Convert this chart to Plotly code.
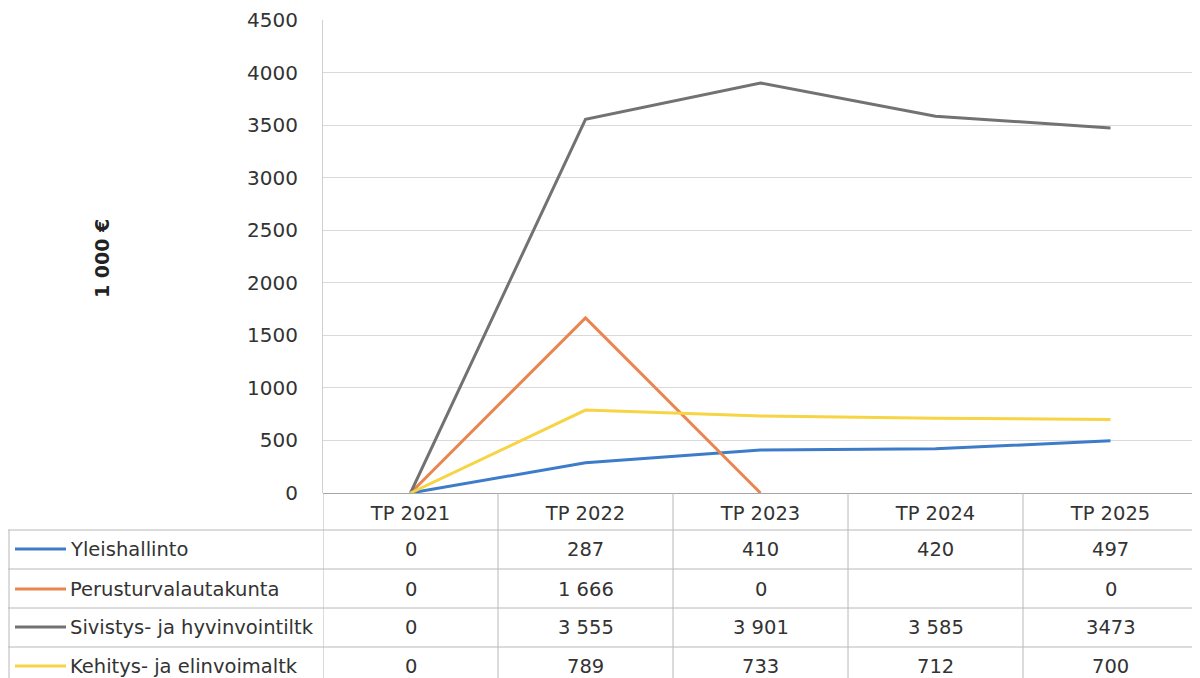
import plotly.graph_objects as go

categories = ["TP 2021", "TP 2022", "TP 2023", "TP 2024", "TP 2025"]
series_names = ["Yleishallinto", "Perusturvalautakunta", "Sivistys- ja hyvinvointiltk", "Kehitys- ja elinvoimaltk"]
yleishallinto = [0, 287, 410, 420, 497]
perusturva = [0, 1666, 0, None, 0]
sivistys = [0, 3555, 3901, 3585, 3473]
kehitys = [0, 789, 733, 712, 700]
table_yleis = ["0", "287", "410", "420", "497"]
table_perus = ["0", "1 666", "0", "", "0"]
table_sivis = ["0", "3 555", "3 901", "3 585", "3473"]
table_kehit = ["0", "789", "733", "712", "700"]
y_ticks = [0, 500, 1000, 1500, 2000, 2500, 3000, 3500, 4000, 4500]

colors = ["#3C7CC9", "#EA8550", "#727272", "#F6D443"]
values = [yleishallinto, perusturva, sivistys, kehitys]
tables = [table_yleis, table_perus, table_sivis, table_kehit]

# page body has an 8px margin; figure sized to fit the 1200x678 window
OFF = 8
W, H = 1200 - OFF, 678 - OFF
def px(x):
    return (x - OFF) / W
def py(y):
    return 1 - (y - OFF) / H

FONT = "DejaVu Sans"
TXT = "#333333"
TS = 19.5

fig = go.Figure()
for name, vals, col in zip(series_names, values, colors):
    fig.add_trace(go.Scatter(x=categories, y=vals, mode="lines", name=name,
                             line=dict(color=col, width=3), connectgaps=False,
                             hoverinfo="skip"))

fig.update_layout(
    template="none",
    width=W, height=H, margin=dict(l=0, r=0, t=0, b=0, pad=0, autoexpand=False),
    paper_bgcolor="white", plot_bgcolor="white", showlegend=False,
    font=dict(family=FONT, color=TXT),
    xaxis=dict(domain=[px(323), px(1198)], type="category", range=[-0.5, 4.5],
               showgrid=False, showline=False, ticks="", zeroline=False, automargin=False,
               tickfont=dict(size=TS, color=TXT, family=FONT), ticklabelstandoff=6),
    yaxis=dict(domain=[py(493), py(20)], range=[0, 4500], tickvals=y_ticks, automargin=False,
               showgrid=True, gridcolor="#d9d9d9", gridwidth=1,
               showline=True, linecolor="#d0d0d0", linewidth=1,
               zeroline=True, zerolinecolor="#a6a6a6", zerolinewidth=1,
               ticks="", tickfont=dict(size=20, color=TXT, family=FONT),
               ticklabelstandoff=20),
)

# y axis title
fig.add_annotation(x=px(102), y=py(259), xref="paper", yref="paper", text="<b>1 000 €</b>",
                   xanchor="center", yanchor="middle",
                   textangle=-90, showarrow=False, font=dict(size=19, color="#222222", family=FONT))

# table lines
line_col = "#b8b8b8"
for yy in [530, 569, 608, 647]:
    fig.add_shape(type="line", xref="paper", yref="paper", x0=px(8), x1=px(1198),
                  y0=py(yy), y1=py(yy), line=dict(color=line_col, width=1))
fig.add_shape(type="line", xref="paper", yref="paper", x0=px(9), x1=px(9),
              y0=py(530), y1=0, line=dict(color=line_col, width=1))
for i in range(len(categories) + 1):
    fig.add_shape(type="line", xref="x", yref="paper", x0=i - 0.5, x1=i - 0.5,
                  y0=py(493), y1=0, line=dict(color=line_col, width=1))

row_y = [549, 589, 627, 666]
for r, (name, col, cells) in enumerate(zip(series_names, colors, tables)):
    yc = py(row_y[r])
    fig.add_shape(type="line", xref="paper", yref="paper", x0=px(15), x1=px(66),
                  y0=yc, y1=yc, line=dict(color=col, width=3))
    fig.add_annotation(x=px(68), y=yc, xref="paper", yref="paper", text=name,
                       xanchor="left", yanchor="middle", showarrow=False,
                       font=dict(size=TS, color=TXT, family=FONT))
    for c, txt in enumerate(cells):
        if txt == "":
            continue
        fig.add_annotation(x=categories[c], y=yc, xref="x", yref="paper", text=txt,
                           xanchor="center", yanchor="middle", showarrow=False,
                           font=dict(size=TS, color=TXT, family=FONT))

fig.write_html("out.html")
